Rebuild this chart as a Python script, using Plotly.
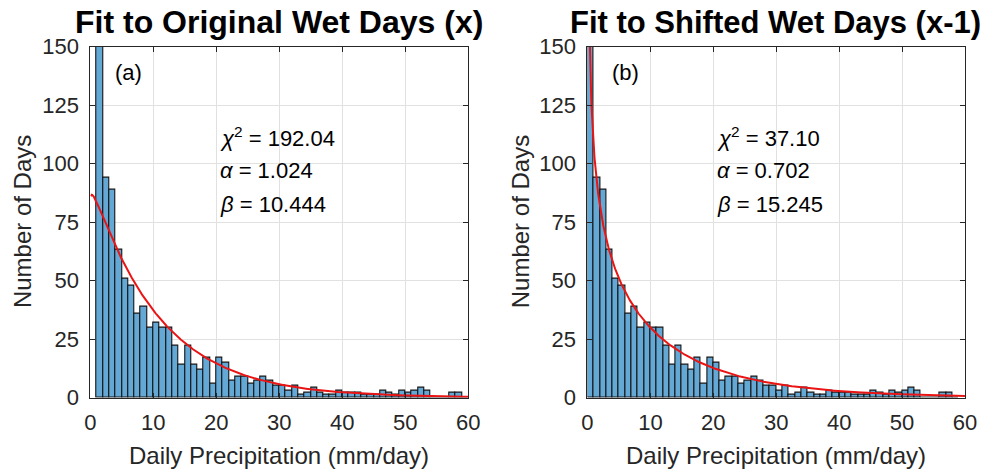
import math
import plotly.graph_objects as go

# ---- data ----
bin_left = list(range(1, 60))          # histogram bins of width 1 mm/day (original data)
counts = [200, 94, 89, 63, 51, 48, 36, 39, 30, 32, 30, 30, 22, 14, 22, 14, 12, 17, 6, 17,
          15, 7, 9, 9, 6, 7, 9, 7, 5, 5, 3, 5, 1, 2, 4, 2, 1, 1, 3, 2,
          2, 2, 1, 1, 1, 3, 2, 1, 3, 2, 3, 4, 3, 0, 0, 0, 2, 2, 0]
fit_a = {"chi2": "192.04", "alpha": 1.024, "beta": 10.444}
fit_b = {"chi2": "37.10", "alpha": 0.702, "beta": 15.245}
titles = ["Fit to Original Wet Days (x)", "Fit to Shifted Wet Days (x-1)"]
panel_labels = ["(a)", "(b)"]
x_title = "Daily Precipitation (mm/day)"
y_title = "Number of Days"
x_ticks = [0, 10, 20, 30, 40, 50, 60]
y_ticks = [0, 25, 50, 75, 100, 125, 150]

N = sum(counts)
bar_color = "rgb(100,168,214)"
axis_color = "rgb(38,38,38)"
grid_color = "rgb(225,225,225)"
FONT = "Liberation Sans, Arial, sans-serif"


def gamma_curve(alpha, beta, xs):
    c = 1.0 / (math.gamma(alpha) * beta ** alpha)
    return [N * c * x ** (alpha - 1) * math.exp(-x / beta) for x in xs]


xs_a = [0.1 + 0.05 * i for i in range(0, 1199)]
xs_b = [0.002 * i for i in range(1, 50)] + xs_a

fig = go.Figure()
for k, (fit, shift, xs) in enumerate([(fit_a, 0, xs_a), (fit_b, 1, xs_b)]):
    xa = "x" if k == 0 else "x2"
    ya = "y" if k == 0 else "y2"
    centers = [b - shift + 0.5 for b in bin_left]
    fig.add_trace(go.Bar(x=centers, y=counts, width=1, xaxis=xa, yaxis=ya,
                         marker=dict(color=bar_color, line=dict(color="rgb(20,20,20)", width=1.1)),
                         showlegend=False))
    fig.add_trace(go.Scatter(x=xs, y=gamma_curve(fit["alpha"], fit["beta"], xs),
                             mode="lines", line=dict(color="rgb(235,20,20)", width=2),
                             xaxis=xa, yaxis=ya, showlegend=False))

doms = [[0.0915, 0.4745], [0.5952, 0.9777]]
ydom = [0.1596, 0.9013]
for k in range(2):
    sfx = "" if k == 0 else "2"
    fig.layout["xaxis" + sfx] = dict(
        domain=doms[k], range=[0, 60], tickvals=x_ticks, ticks="inside", ticklen=5,
        tickcolor=axis_color, showline=True, linecolor=axis_color, linewidth=1, mirror="ticks",
        showgrid=True, gridcolor=grid_color, zeroline=False, anchor="y" + sfx,
        automargin=False, ticklabelstandoff=5,
        tickfont=dict(family=FONT, size=22, color=axis_color))
    fig.layout["yaxis" + sfx] = dict(
        domain=ydom, range=[0, 150], tickvals=y_ticks, ticks="inside", ticklen=5,
        tickcolor=axis_color, showline=True, linecolor=axis_color, linewidth=1, mirror="ticks",
        showgrid=True, gridcolor=grid_color, zeroline=False, anchor="x" + sfx,
        automargin=False, ticklabelstandoff=6,
        tickfont=dict(family=FONT, size=22, color=axis_color))

annos = []
title_x = [0.283, 0.786]
title_size = [32, 31]
ylab_x = [0.0223, 0.527]
for k, fit in enumerate([fit_a, fit_b]):
    xr = "x" if k == 0 else "x2"
    yr = "y" if k == 0 else "y2"
    annos.append(dict(text=panel_labels[k], x=3.6, y=139, xref=xr, yref=yr, xanchor="left",
                      yanchor="middle", showarrow=False,
                      font=dict(family=FONT, size=22, color="black")))
    lines = ["<i>χ</i><sup>2</sup> = " + fit["chi2"],
             "<i>α</i> = " + f"{fit['alpha']:.3f}",
             "<i>β</i> = " + f"{fit['beta']:.3f}"]
    for j, (txt, yy) in enumerate(zip(lines, [111.5, 97, 82.5])):
        annos.append(dict(text=txt, x=20.2, y=yy, xref=xr, yref=yr, xanchor="left",
                          yanchor="middle", showarrow=False,
                          font=dict(family=FONT, size=22, color="black")))
    annos.append(dict(text="<b>" + titles[k] + "</b>", x=title_x[k], y=0.953,
                      xref="paper", yref="paper", xanchor="center", yanchor="middle",
                      showarrow=False, font=dict(family=FONT, size=title_size[k], color="black")))
    annos.append(dict(text=x_title, x=sum(doms[k]) / 2, y=0.038, xref="paper", yref="paper",
                      xanchor="center", yanchor="middle", showarrow=False,
                      font=dict(family=FONT, size=24, color=axis_color)))
    annos.append(dict(text=y_title, x=ylab_x[k], y=sum(ydom) / 2, xref="paper", yref="paper",
                      xanchor="center", yanchor="middle", textangle=-90, showarrow=False,
                      font=dict(family=FONT, size=24, color=axis_color)))

fig.update_layout(width=987, height=473, margin=dict(l=0, r=0, t=0, b=0),
                  paper_bgcolor="white", plot_bgcolor="white", bargap=0,
                  annotations=annos)
fig.write_html("out.html")
